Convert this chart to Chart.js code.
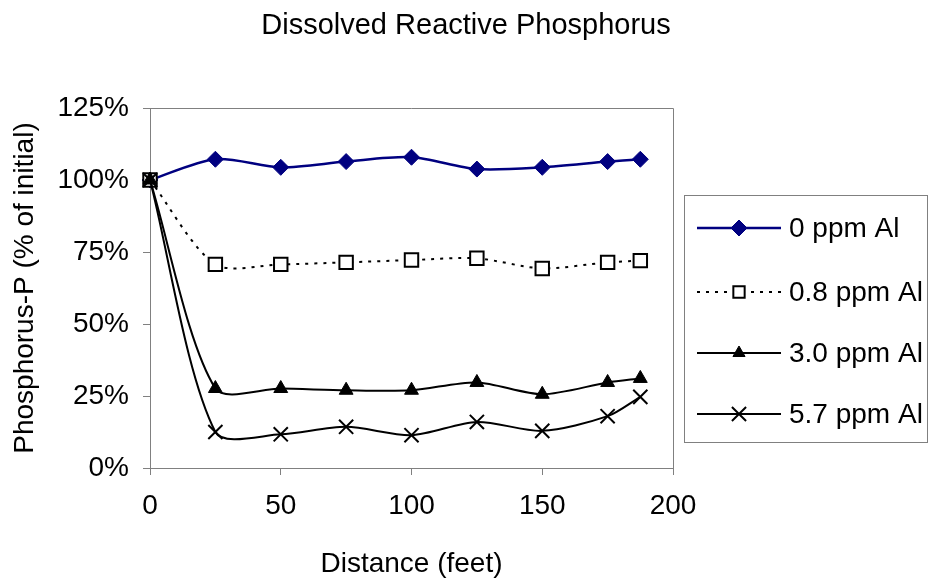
<!DOCTYPE html>
<html>
<head>
<meta charset="utf-8">
<script src="https://cdn.jsdelivr.net/npm/chart.js@4"></script>
<style>
  html, body { margin: 0; padding: 0; background: #fff; }
  #wrap { width: 929px; height: 578px; }
</style>
</head>
<body>
<div id="wrap"><canvas id="dripChart" width="929" height="578"></canvas></div>
<script>
// values
const distances = [0, 25, 50, 75, 100, 125, 150, 175, 187.5];
const al0 = [100, 107.2, 104.4, 106.4, 107.9, 103.8, 104.4, 106.4, 107.2];
const al08 = [100, 70.7, 70.7, 71.4, 72.2, 72.8, 69.3, 71.4, 72.0];
const al30 = [100, 27.6, 27.6, 27.0, 27.0, 29.7, 25.6, 29.7, 31.1];
const al57 = [100, 12.5, 11.7, 14.3, 11.4, 16.0, 12.9, 18.0, 24.7];
const seriesNames = ['0 ppm Al', '0.8 ppm Al', '3.0 ppm Al', '5.7 ppm Al'];
const xTicks = [0, 50, 100, 150, 200];
const yTicks = [0, 25, 50, 75, 100, 125];

const FONT = "'Liberation Sans', Arial, sans-serif";

function pts(ys) {
  return distances.map((d, i) => ({ x: d, y: ys[i] }));
}

// frame round the plot area + title
const framePlugin = {
  id: 'frame',
  afterDraw(chart) {
    const { ctx, chartArea: a } = chart;
    ctx.save();
    ctx.strokeStyle = '#808080';
    ctx.lineWidth = 1;
    ctx.beginPath();
    ctx.moveTo(a.left, a.top + 0.5);
    ctx.lineTo(a.right + 0.5, a.top + 0.5);
    ctx.lineTo(a.right + 0.5, a.bottom);
    ctx.stroke();
    ctx.fillStyle = '#000';
    ctx.font = '29px ' + FONT;
    ctx.textAlign = 'center';
    ctx.textBaseline = 'middle';
    ctx.fillText('Dissolved Reactive Phosphorus', 466, 26);
    ctx.restore();
  }
};

// Excel style legend: line + marker, then label
const legendPlugin = {
  id: 'boxLegend',
  afterDraw(chart) {
    const ctx = chart.ctx;
    ctx.save();
    ctx.strokeStyle = '#808080';
    ctx.lineWidth = 1;
    ctx.strokeRect(684.5, 195.5, 243, 247);
    const rows = [228, 292, 353, 414];
    chart.data.datasets.forEach((ds, i) => {
      const y = rows[i];
      ctx.save();
      ctx.strokeStyle = ds.borderColor;
      ctx.lineWidth = ds.borderWidth;
      ctx.setLineDash(ds.borderDash || []);
      ctx.beginPath();
      ctx.moveTo(697, y);
      ctx.lineTo(781, y);
      ctx.stroke();
      ctx.setLineDash([]);
      ctx.fillStyle = ds.pointBackgroundColor;
      ctx.strokeStyle = ds.pointBorderColor;
      ctx.lineWidth = ds.pointBorderWidth;
      Chart.helpers.drawPoint(ctx, {
        pointStyle: ds.pointStyle,
        radius: ds.legendRadius,
        rotation: 0,
        borderWidth: ds.pointBorderWidth
      }, 739, y);
      ctx.restore();
      ctx.fillStyle = '#000';
      ctx.font = '28px ' + FONT;
      ctx.textAlign = 'left';
      ctx.textBaseline = 'middle';
      ctx.fillText(ds.label, 789, y + 1);
    });
    ctx.restore();
  }
};

new Chart(document.getElementById('dripChart'), {
  type: 'line',
  data: {
    datasets: [
      {
        label: seriesNames[0], data: pts(al0),
        borderColor: '#000080', borderWidth: 2.5,
        pointStyle: 'rectRot', pointRadius: 8, legendRadius: 8,
        pointBackgroundColor: '#000080', pointBorderColor: '#000080', pointBorderWidth: 1,
        order: 4
      },
      {
        label: seriesNames[1], data: pts(al08),
        borderColor: '#000', borderWidth: 2, borderDash: [3, 6],
        pointStyle: 'rect', pointRadius: 9.5, legendRadius: 8,
        pointBackgroundColor: '#fff', pointBorderColor: '#000', pointBorderWidth: 2,
        order: 3
      },
      {
        label: seriesNames[2], data: pts(al30),
        borderColor: '#000', borderWidth: 2,
        pointStyle: 'triangle', pointRadius: 8, legendRadius: 7,
        pointBackgroundColor: '#000', pointBorderColor: '#000', pointBorderWidth: 1,
        order: 2
      },
      {
        label: seriesNames[3], data: pts(al57),
        borderColor: '#000', borderWidth: 2,
        pointStyle: 'crossRot', pointRadius: 10, legendRadius: 10,
        pointBackgroundColor: '#000', pointBorderColor: '#000', pointBorderWidth: 2,
        order: 1
      }
    ]
  },
  options: {
    responsive: false,
    animation: false,
    devicePixelRatio: 1,
    layout: { padding: { top: 108, right: 256, left: 0, bottom: 0 } },
    elements: { line: { tension: 0.28, fill: false } },
    datasets: { line: { clip: false } },
    plugins: {
      legend: { display: false },
      title: { display: false },
      tooltip: { enabled: false }
    },
    scales: {
      x: {
        type: 'linear', min: 0, max: 200,
        afterFit: s => { s.height = 110; },
        afterBuildTicks: s => { s.ticks = xTicks.map(v => ({ value: v })); },
        grid: { drawOnChartArea: false, tickLength: 7, color: '#808080' },
        border: { color: '#808080' },
        ticks: { color: '#000', font: { family: FONT, size: 28 }, padding: 14, maxRotation: 0 },
        title: { display: true, text: 'Distance (feet)', color: '#000',
                 font: { family: FONT, size: 28 }, padding: { top: 0, bottom: -3 } }
      },
      y: {
        min: 0, max: 125,
        afterFit: s => { s.width = 150; },
        afterBuildTicks: s => { s.ticks = yTicks.map(v => ({ value: v })); },
        grid: { drawOnChartArea: false, tickLength: 7, color: '#808080' },
        border: { color: '#808080' },
        ticks: { color: '#000', font: { family: FONT, size: 28 }, padding: 14,
                 callback: v => v + '%' },
        title: { display: true, text: 'Phosphorus-P (% of initial)', color: '#000',
                 font: { family: FONT, size: 28 }, padding: { top: 8, bottom: 0 } }
      }
    }
  },
  plugins: [framePlugin, legendPlugin]
});
</script>
</body>
</html>
